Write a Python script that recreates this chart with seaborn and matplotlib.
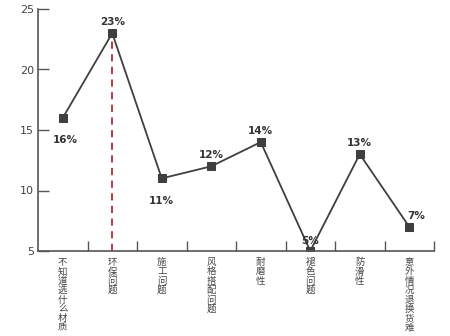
import matplotlib
matplotlib.use("Agg")
import matplotlib.pyplot as plt
import seaborn as sns
import pandas as pd

categories = ["不知道选什么材质", "环保问题", "施工问题", "风格搭配问题", "耐磨性", "褪色问题", "防滑性", "意外情况退换货难"]
values = [16, 23, 11, 12, 14, 5, 13, 7]
labels = ["16%", "23%", "11%", "12%", "14%", "5%", "13%", "7%"]
yticks = [5, 10, 15, 20, 25]

sns.set_style("white")
plt.rcParams['font.family'] = ['Noto Sans CJK SC', 'DejaVu Sans']

df = pd.DataFrame({"x": range(len(categories)), "y": values})

fig = plt.figure(figsize=(4.5, 3.36), dpi=100)
ax = fig.add_axes([38/450, 85/336, (434-38)/450, (251-9)/336])
sns.lineplot(data=df, x="x", y="y", ax=ax, color="#3f3f3f", linewidth=1.3,
             marker="s", markersize=6, markeredgecolor="#3f3f3f", markerfacecolor="#3f3f3f")

# red dashed line from peak
imax = values.index(max(values))
ax.plot([imax, imax], [5, values[imax]], color="#b22a35", linestyle=(0, (4, 3)), linewidth=1.3, zorder=1)

offsets = {0: (2, -16), 1: (0, 8), 2: (0, -16), 3: (0, 8), 4: (0, 8), 5: (0, 7), 6: (0, 8), 7: (5, 8)}
for i, (v, lab) in enumerate(zip(values, labels)):
    dx, dy = offsets[i]
    ax.annotate(lab, (i, v), xytext=(dx, dy), textcoords="offset points",
                ha="center", va="center", fontsize=7.5, fontweight="bold", color="#333333",
                family="DejaVu Sans")

ax.set_xlim(-0.5, 7.5)
ax.set_ylim(5, 25)
ax.set_yticks(yticks)
ax.set_yticklabels([str(t) for t in yticks], fontsize=8, color="#444444", family="DejaVu Sans")
ax.set_xticks([i + 0.5 for i in range(len(categories))])
ax.set_xticklabels([])
ax.tick_params(axis="x", bottom=True, direction="in", length=7, width=1, color="#555555")
ax.tick_params(axis="y", left=True, direction="in", length=8, width=1, color="#555555", pad=3)
for s in ["top", "right"]:
    ax.spines[s].set_visible(False)
for s in ["left", "bottom"]:
    ax.spines[s].set_color("#555555")
    ax.spines[s].set_linewidth(1.2)
ax.set_xlabel("")
ax.set_ylabel("")

step = 6.75  # points per character
for i, c in enumerate(categories):
    for k, ch in enumerate(c):
        ax.annotate(ch, (i, 0), xycoords=ax.get_xaxis_transform(),
                    xytext=(0, -5 - k * step), textcoords="offset points",
                    ha="center", va="top", fontsize=6.8, color="#444444")

fig.savefig("out.png", dpi=100)
